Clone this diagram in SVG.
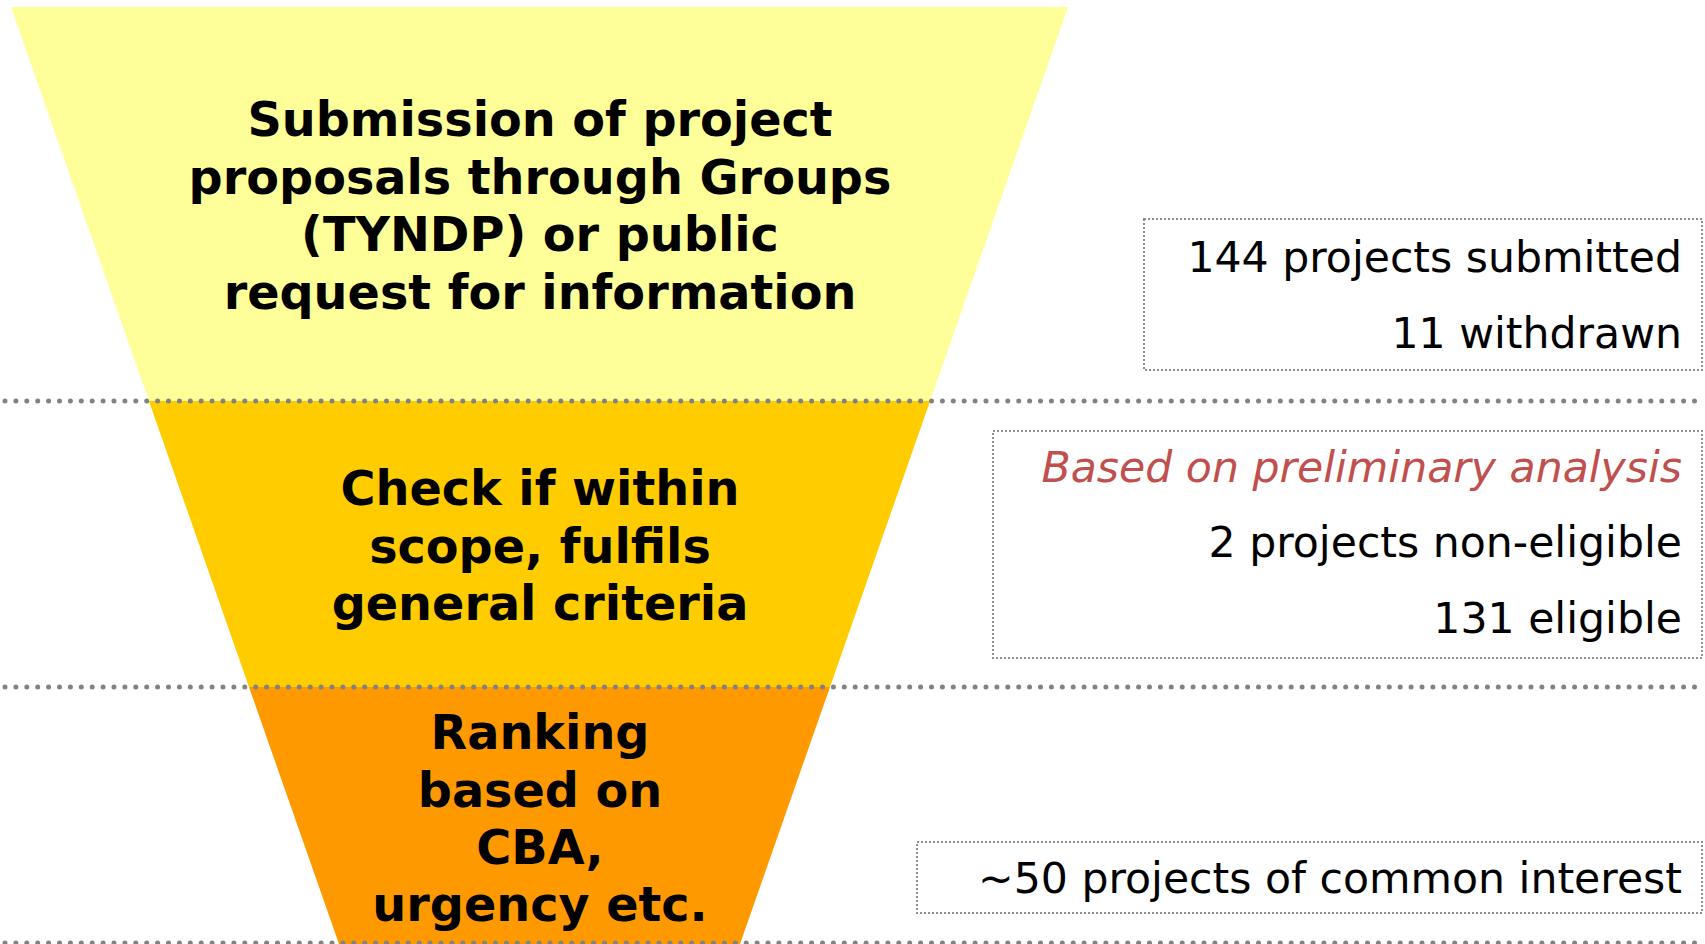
<svg xmlns="http://www.w3.org/2000/svg" width="1705" height="944" viewBox="0 0 1705 944">
<style>
.stage{font-family:"DejaVu Sans","Verdana",sans-serif;font-weight:bold;font-size:47.7px;fill:#000;text-anchor:middle}
.note{font-family:"DejaVu Sans","Verdana",sans-serif;font-size:42.6px;fill:#000;text-anchor:end}
.red{fill:#C0504D;font-style:italic}
.sep{stroke:#828282;stroke-width:5;stroke-linecap:round;stroke-dasharray:0 10.9;fill:none}
.box{fill:#fff;stroke:#8f8f8f;stroke-width:2;stroke-dasharray:2 2}
</style>
<rect width="1705" height="944" fill="#fff"/>
<g id="stage1">
<polygon points="11,7 1068,7 930.1,401 148.9,401" fill="#FFFF99"/>
<text class="stage" x="540" y="136">Submission of project</text>
<text class="stage" x="540" y="193.5">proposals through Groups</text>
<text class="stage" x="540" y="251">(TYNDP) or public</text>
<text class="stage" x="540" y="308.5">request for information</text>
</g>
<g id="stage2">
<polygon points="148.9,401 930.1,401 830,687 249,687" fill="#FFCC00"/>
<text class="stage" x="540" y="505">Check if within</text>
<text class="stage" x="540" y="562.5">scope, fulfils</text>
<text class="stage" x="540" y="620">general criteria</text>
</g>
<g id="stage3">
<polygon points="249,687 830,687 740,944 339,944" fill="#FF9900"/>
<text class="stage" x="540" y="749">Ranking</text>
<text class="stage" x="540" y="806.5">based on</text>
<text class="stage" x="540" y="864">CBA,</text>
<text class="stage" x="540" y="921">urgency etc.</text>
</g>
<g id="connectors">
<line class="sep" x1="5" y1="401" x2="1702" y2="401"/>
<line class="sep" x1="5" y1="687" x2="1702" y2="687"/>
<line class="sep" x1="5" y1="943" x2="1702" y2="943"/>
</g>
<g id="note1">
<rect class="box" x="1144" y="219" width="558" height="151"/>
<text class="note" x="1682" y="272">144 projects submitted</text>
<text class="note" x="1682" y="348">11 withdrawn</text>
</g>
<g id="note2">
<rect class="box" x="993" y="431" width="709" height="227"/>
<text class="note red" x="1682" y="482">Based on preliminary analysis</text>
<text class="note" x="1682" y="557">2 projects non-eligible</text>
<text class="note" x="1682" y="633">131 eligible</text>
</g>
<g id="note3">
<rect class="box" x="917" y="842" width="785" height="71"/>
<text class="note" x="1682" y="893">~50 projects of common interest</text>
</g>
</svg>
